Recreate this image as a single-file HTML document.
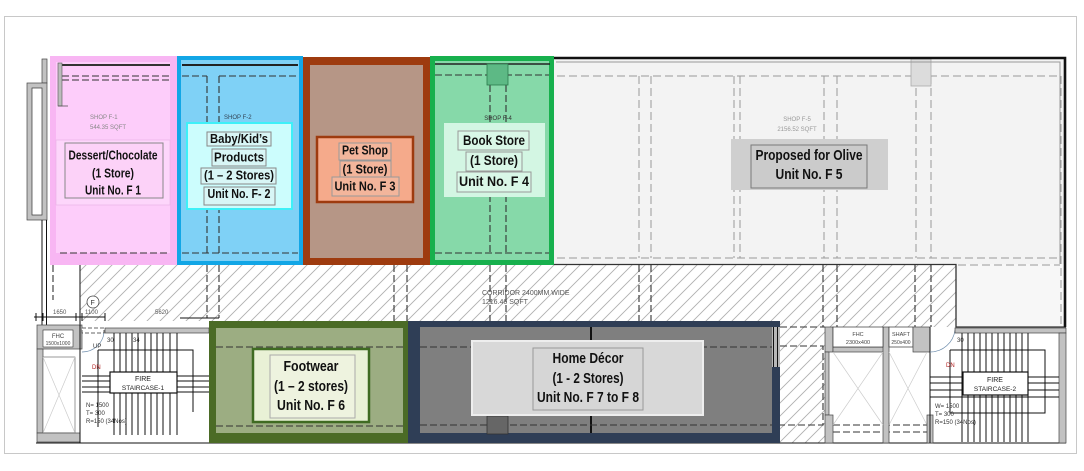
<!DOCTYPE html>
<html><head><meta charset="utf-8"><style>
html,body{margin:0;padding:0;background:#fff;}
svg{display:block;}
text{font-family:"Liberation Sans",sans-serif;}
.b{font-weight:bold;fill:#111;text-anchor:middle;}
.t{font-size:6px;fill:#777;}
.d{stroke:#333;stroke-width:1.1;stroke-dasharray:7,3;fill:none;}
.dg{stroke:#9a9a9a;stroke-width:1;stroke-dasharray:8,4;fill:none;}
.k{stroke:#111;fill:none;stroke-width:1;}
.g{fill:#c2c2c2;stroke:#444;stroke-width:0.7;}
</style></head><body>
<svg width="1084" height="471" viewBox="0 0 1084 471" xmlns="http://www.w3.org/2000/svg">
<defs>
<pattern id="h" patternUnits="userSpaceOnUse" width="13" height="13">
<path d="M-1,14 L14,-1 M-1,1 L1,-1 M12,14 L14,12" stroke="#b0b0b0" stroke-width="0.9"/>
</pattern>
</defs>
<rect width="1084" height="471" fill="#fff"/>
<rect x="4.5" y="16.5" width="1072" height="437" fill="#fff" stroke="#c8c8c8"/>

<!-- hatch regions -->
<rect x="80" y="265" width="876" height="56" fill="url(#h)"/>
<rect x="780" y="321" width="45" height="122" fill="url(#h)"/>
<rect x="825" y="321" width="130" height="6" fill="url(#h)"/>

<!-- corridor dashed verticals -->
<path class="d" d="M207,265V318 M219,265V318 M394,265V321 M407,265V321 M490,265V321 M506,265V321 M639,265V321 M651,265V321 M823,265V327 M837,265V327 M915,265V327 M931,265V327"/>
<path class="k" d="M180,318H219" stroke-width="0.8"/>
<text x="482" y="295" style="font-size:7px;fill:#555">CORRIDOR 2400MM WIDE</text>
<text x="482" y="304" style="font-size:7px;fill:#555">1216.46 SQFT</text>

<!-- left structure -->
<rect x="42" y="59" width="5" height="24" class="g"/>
<rect x="27" y="83" width="20" height="137" class="g"/>
<rect x="32" y="88" width="10" height="127" fill="#fff" stroke="#333" stroke-width="0.7"/>
<path class="k" d="M42,220V325 M46.5,220V325" stroke-width="1.3"/>
<path class="d" d="M53,265V300"/>
<path class="k" d="M80,265V325" stroke-width="1.5"/>
<path class="k" d="M34,317H105 M36,313V321 M43,313V321 M76,313V321 M82,313V321 M105,313V321" stroke-width="0.8"/>
<text x="53" y="314" class="t" style="fill:#555">1650</text>
<text x="85" y="314" class="t" style="fill:#555">1100</text>
<text x="155" y="314" class="t" style="fill:#555">5620</text>
<circle cx="93" cy="302" r="6" fill="#fff" stroke="#444" stroke-width="0.8"/>
<text x="90.5" y="305" style="font-size:7px;fill:#333">F</text>
<rect x="37" y="325" width="45" height="24" class="g"/>
<rect x="43" y="330" width="30" height="17" fill="#fff" stroke="#333" stroke-width="0.6"/>
<text x="58" y="338" class="t" style="fill:#444;text-anchor:middle">FHC</text>
<text x="58" y="345" style="font-size:5px;fill:#444;text-anchor:middle">1500x1000</text>
<rect x="37" y="349" width="6" height="84" class="g"/>
<rect x="43" y="357" width="32" height="76" fill="#fff" stroke="#555" stroke-width="0.6"/>
<path d="M43,357L75,433M75,357L43,433" stroke="#ccc" stroke-width="0.7"/>
<rect x="37" y="433" width="43" height="9" class="g"/>
<path class="k" d="M80,325V443"/>

<!-- stair 1 -->
<rect x="105" y="328" width="104" height="5" class="g"/>
<rect x="82" y="328" width="22" height="5" fill="#fff" stroke="#333" stroke-width="0.8" stroke-dasharray="4,2"/>
<path class="k" d="M114,333V435 M120,333V435 M126,333V435 M132,333V435 M138,333V435 M145,333V435 M151,333V435 M157,333V435 M163,333V435 M170,333V435 M177,333V435"/>
<path class="k" d="M82,376H209 M82,381H209 M82,387H209 M82,392H209"/>
<path class="k" d="M98,350H193V412 M98,350V427" stroke-width="0.8"/>
<path d="M82,352 A22,22 0 0 0 104,333" stroke="#6a8aaa" fill="none" stroke-width="0.7"/>
<rect x="110" y="372" width="67" height="21" fill="#fff" stroke="#111" stroke-width="1.2"/>
<text x="143" y="381" style="font-size:7px;fill:#222;text-anchor:middle">FIRE</text>
<text x="143" y="390" style="font-size:6.5px;fill:#222;text-anchor:middle">STAIRCASE-1</text>
<text x="93" y="348" style="font-size:6px;fill:#333">UP</text>
<text x="92" y="369" style="font-size:6px;fill:#b02020">DN</text>
<text x="107" y="342" style="font-size:6px;fill:#333">30</text>
<text x="133" y="342" style="font-size:6px;fill:#333">34</text>
<text x="86" y="407" style="font-size:6px;fill:#333">N= 1500</text>
<text x="86" y="415" style="font-size:6px;fill:#333">T= 300</text>
<text x="86" y="423" style="font-size:6px;fill:#333">R=150 (34Nos)</text>
<path class="k" d="M36,443H1066" stroke-width="1.2"/>

<!-- right service area -->
<path class="d" d="M780,327H825 M780,346H823V425H780 M833,425H927 M833,432H927"/>
<rect x="825" y="327" width="8" height="25" class="g"/>
<rect x="825" y="352" width="4" height="63" class="g"/>
<rect x="825" y="415" width="8" height="28" class="g"/>
<rect x="833" y="347" width="55" height="5" class="g"/>
<rect x="883" y="327" width="6" height="116" class="g"/>
<rect x="833" y="327" width="50" height="20" fill="#fff" stroke="#333" stroke-width="0.7"/>
<text x="858" y="336" style="font-size:5.5px;fill:#444;text-anchor:middle">FHC</text>
<text x="858" y="344" style="font-size:5.5px;fill:#444;text-anchor:middle">2300x400</text>
<rect x="889" y="327" width="24" height="20" fill="#fff" stroke="#333" stroke-width="0.7"/>
<text x="901" y="336" style="font-size:5.5px;fill:#444;text-anchor:middle">SHAFT</text>
<text x="901" y="344" style="font-size:5px;fill:#444;text-anchor:middle">250x400</text>
<rect x="913" y="327" width="17" height="25" class="g"/>
<path d="M833,352L883,425M883,352L833,425M889,352L927,425M927,352L889,425" stroke="#ccc" stroke-width="0.7"/>
<rect x="927" y="415" width="6" height="28" class="g"/>
<path class="k" d="M930,327V443"/>
<path d="M930,352 A25,25 0 0 0 955,330" stroke="#6a8aaa" fill="none" stroke-width="0.7"/>

<!-- stair 2 -->
<rect x="955" y="328" width="111" height="5" class="g"/>
<rect x="1059" y="333" width="7" height="110" class="g"/>
<path class="k" d="M962,333V442 M968,333V442 M974,333V442 M980,333V442 M986,333V442 M992,333V442 M998,333V442 M1004,333V442 M1010,333V442 M1016,333V442 M1022,333V442 M1028,333V442"/>
<path class="k" d="M930,377H1059 M930,383H1059 M930,390H1059 M930,397H1059"/>
<path class="k" d="M950,350H1045V413H950V350" stroke-width="0.8"/>
<rect x="963" y="372" width="65" height="23" fill="#fff" stroke="#111" stroke-width="1.2"/>
<text x="995" y="382" style="font-size:7px;fill:#222;text-anchor:middle">FIRE</text>
<text x="995" y="391" style="font-size:6.5px;fill:#222;text-anchor:middle">STAIRCASE-2</text>
<text x="946" y="367" style="font-size:6px;fill:#b02020">DN</text>
<text x="957" y="342" style="font-size:6px;fill:#333">30</text>
<text x="935" y="408" style="font-size:6px;fill:#333">W= 1500</text>
<text x="935" y="416" style="font-size:6px;fill:#333">T= 300</text>
<text x="935" y="424" style="font-size:6px;fill:#333">R=150 (34Nos)</text>

<!-- F5 -->
<rect x="554" y="58" width="511" height="206" fill="#f3f3f3"/>
<rect x="956" y="264" width="108" height="63" fill="#f7f7f7"/>
<path class="dg" d="M557,76H1060 M557,258H1060 M639,76V258 M651,76V258 M734,76V258 M740,76V258 M824,76V258 M837,76V258 M916,76V258 M931,76V258 M1061,76V325 M958,265H1060"/>
<rect x="911" y="59" width="20" height="27" fill="#dcdcdc" stroke="#aaa" stroke-width="0.8"/>
<path d="M556,62H1060V264" stroke="#999" fill="none" stroke-width="1"/>
<path d="M554,264.5H956V327H1066" stroke="#333" fill="none" stroke-width="1.3"/>
<path d="M554,58H1065V327" stroke="#111" fill="none" stroke-width="2.6"/>
<text x="797" y="121" class="t" style="text-anchor:middle;fill:#999">SHOP F-5</text>
<text x="797" y="131" class="t" style="text-anchor:middle;fill:#999">2156.52 SQFT</text>
<rect x="731" y="139" width="157" height="51" fill="#cfcfcf"/>
<rect x="751" y="145" width="116" height="43" fill="#cbcbcb" stroke="#7a7a7a" stroke-width="1"/>
<text x="809" y="160" class="b" style="font-size:15px" textLength="107" lengthAdjust="spacingAndGlyphs">Proposed for Olive</text>
<text x="809" y="179" class="b" style="font-size:15px" textLength="67" lengthAdjust="spacingAndGlyphs">Unit No. F 5</text>

<!-- F1 pink -->
<rect x="50" y="56" width="127" height="209" fill="#f8b6f3"/>
<rect x="56" y="62" width="114" height="191" fill="#fdcdfa"/>
<path d="M62,65H170" stroke="#333" stroke-width="2"/>
<path class="d" d="M62,76H170 M62,80H170 M60,253H170" stroke="#555"/>
<rect x="58" y="63" width="4" height="43" fill="#bbb" stroke="#555" stroke-width="0.6"/>
<path d="M58,106H68" stroke="#555" stroke-width="0.8"/>
<rect x="56" y="140" width="114" height="65" fill="#fdd6fb" stroke="#eab2e6" stroke-width="0.7"/>
<text x="90" y="119" class="t" style="fill:#888">SHOP F-1</text>
<text x="90" y="129" class="t" style="fill:#888">544.35 SQFT</text>
<rect x="65" y="143" width="98" height="55" fill="#fcd2f8" stroke="#888" stroke-width="1"/>
<text x="113" y="159.5" class="b" style="font-size:13px" textLength="89" lengthAdjust="spacingAndGlyphs">Dessert/Chocolate</text>
<text x="113" y="177.5" class="b" style="font-size:13px" textLength="42" lengthAdjust="spacingAndGlyphs">(1 Store)</text>
<text x="113" y="194.5" class="b" style="font-size:13px" textLength="56" lengthAdjust="spacingAndGlyphs">Unit No. F 1</text>

<!-- F2 blue -->
<rect x="179" y="58" width="122" height="205" fill="#7fd1f6" stroke="#12a6e6" stroke-width="4"/>
<path d="M182,65H298" stroke="#222" stroke-width="2"/>
<path class="d" d="M182,76H207 M219,76H298 M207,76V253 M219,76V253 M182,253H298"/>
<text x="224" y="119" class="t" style="fill:#345">SHOP F-2</text>
<rect x="187" y="123" width="105" height="86" fill="#ccfdfd" stroke="#3ef0f8" stroke-width="2"/>
<rect x="207" y="132" width="64" height="14" fill="#d8f6f6" stroke="#888" stroke-width="1"/>
<rect x="212" y="149" width="54" height="17" fill="#d8f6f6" stroke="#888" stroke-width="1"/>
<rect x="201" y="168" width="75" height="16" fill="#d8f6f6" stroke="#888" stroke-width="1"/>
<rect x="204" y="187" width="71" height="18" fill="#d8f6f6" stroke="#888" stroke-width="1"/>
<text x="239" y="143" class="b" style="font-size:13px" textLength="58" lengthAdjust="spacingAndGlyphs">Baby/Kid’s</text>
<text x="239" y="161.5" class="b" style="font-size:13px" textLength="50" lengthAdjust="spacingAndGlyphs">Products</text>
<text x="239" y="179.5" class="b" style="font-size:13px" textLength="70" lengthAdjust="spacingAndGlyphs">(1 – 2 Stores)</text>
<text x="239" y="198" class="b" style="font-size:13px" textLength="63" lengthAdjust="spacingAndGlyphs">Unit No. F- 2</text>

<!-- F3 brown -->
<rect x="303" y="57" width="127" height="208" fill="#9e3b0f"/>
<rect x="310" y="65" width="113" height="193" fill="#b69686"/>
<rect x="317" y="137" width="96" height="65" fill="#f5aa8b" stroke="#9e3b0f" stroke-width="2.5"/>
<rect x="339" y="143" width="52" height="17" fill="#f3b59b" stroke="#999" stroke-width="1"/>
<rect x="340" y="161" width="51" height="16" fill="#f3b59b" stroke="#999" stroke-width="1"/>
<rect x="332" y="177" width="67" height="19" fill="#f3b59b" stroke="#999" stroke-width="1"/>
<text x="365" y="154.5" class="b" style="font-size:13px" textLength="46" lengthAdjust="spacingAndGlyphs">Pet Shop</text>
<text x="365" y="173.5" class="b" style="font-size:13px" textLength="45" lengthAdjust="spacingAndGlyphs">(1 Store)</text>
<text x="365" y="190.5" class="b" style="font-size:13px" textLength="61" lengthAdjust="spacingAndGlyphs">Unit No. F 3</text>

<!-- F4 green -->
<rect x="432.5" y="58.5" width="119" height="204" fill="#86d9a9" stroke="#17b04d" stroke-width="5"/>
<path d="M435,64H550" stroke="#222" stroke-width="1.5"/>
<path class="d" d="M435,75H549 M490,85V253 M506,85V253 M435,253H549"/>
<rect x="487" y="64" width="21" height="21" fill="#5db985" stroke="#2a7a4a" stroke-width="0.8"/>
<text x="498" y="120" class="t" style="fill:#333;text-anchor:middle">SHOP F-4</text>
<rect x="444" y="123" width="101" height="74" fill="#d3f6e3"/>
<rect x="458" y="131" width="71" height="19" fill="#d9f7e7" stroke="#999" stroke-width="1"/>
<rect x="466" y="152" width="56" height="19" fill="#d9f7e7" stroke="#999" stroke-width="1"/>
<rect x="457" y="172" width="74" height="20" fill="#d9f7e7" stroke="#999" stroke-width="1"/>
<text x="494" y="145" class="b" style="font-size:14px" textLength="62" lengthAdjust="spacingAndGlyphs">Book Store</text>
<text x="494" y="165" class="b" style="font-size:14px" textLength="48" lengthAdjust="spacingAndGlyphs">(1 Store)</text>
<text x="494" y="186" class="b" style="font-size:14px" textLength="70" lengthAdjust="spacingAndGlyphs">Unit No. F 4</text>

<!-- F6 footwear -->
<rect x="209" y="321" width="199" height="122" fill="#4b6b26"/>
<rect x="216" y="328" width="187" height="105" fill="#9cad82"/>
<path class="d" d="M216,347H403 M216,426H403" stroke="#2a3a1a"/>
<rect x="253" y="349" width="116" height="73" fill="#e9f1d6" stroke="#3f6b22" stroke-width="2.5"/>
<rect x="270" y="355" width="85" height="63" fill="#eef3df" stroke="#aaa" stroke-width="1"/>
<text x="311" y="371" class="b" style="font-size:15px" textLength="55" lengthAdjust="spacingAndGlyphs">Footwear</text>
<text x="311" y="391" class="b" style="font-size:15px" textLength="74" lengthAdjust="spacingAndGlyphs">(1 – 2 stores)</text>
<text x="311" y="410" class="b" style="font-size:15px" textLength="68" lengthAdjust="spacingAndGlyphs">Unit No. F 6</text>

<!-- F7-F8 home decor -->
<rect x="408" y="321" width="372" height="122" fill="#2f3e56"/>
<rect x="420" y="327" width="352" height="106" fill="#7f7f7f"/>
<rect x="772" y="327" width="8" height="40" fill="#b8b8b8"/>
<path d="M773.5,327V367 M777.5,327V367" stroke="#111" stroke-width="1"/>
<path d="M591,327V433" stroke="#111" stroke-width="2"/>
<path class="d" d="M420,347H772 M420,425H772" stroke="#222"/>
<rect x="487" y="416" width="21" height="18" fill="#666" stroke="#333" stroke-width="0.8"/>
<rect x="472" y="341" width="231" height="74" fill="#d8d8d8" stroke="#eeeeee" stroke-width="2"/>
<rect x="533" y="348" width="110" height="62" fill="#d6d6d6" stroke="#999" stroke-width="1"/>
<text x="588" y="363" class="b" style="font-size:15px" textLength="71" lengthAdjust="spacingAndGlyphs">Home Décor</text>
<text x="588" y="383" class="b" style="font-size:15px" textLength="71" lengthAdjust="spacingAndGlyphs">(1 - 2 Stores)</text>
<text x="588" y="402" class="b" style="font-size:15px" textLength="102" lengthAdjust="spacingAndGlyphs">Unit No. F 7 to F 8</text>
</svg>
</body></html>
